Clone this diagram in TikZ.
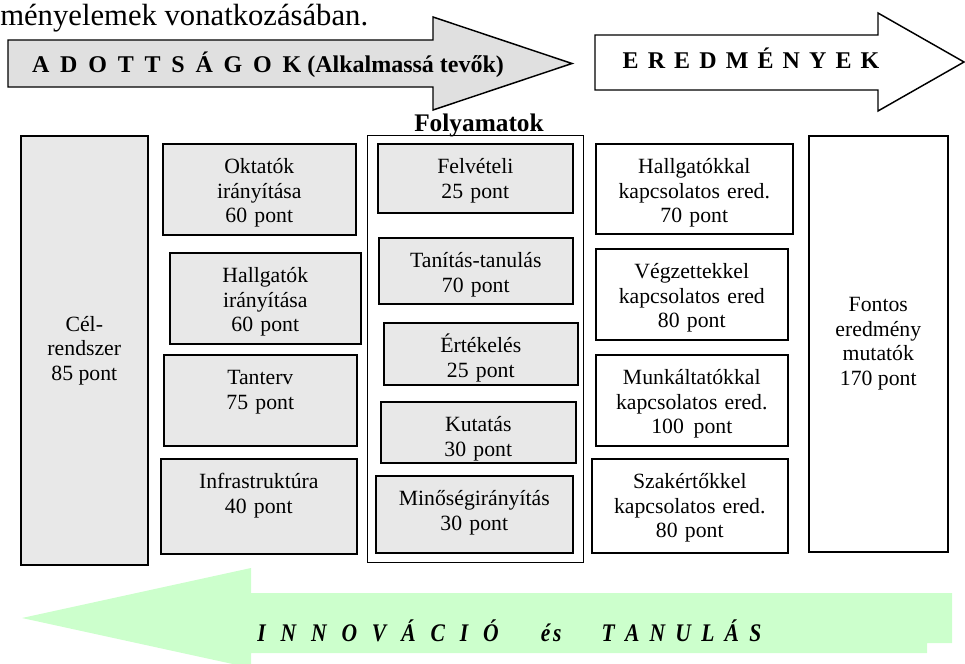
\documentclass[tikz,border=0pt]{standalone}
\usepackage{fontspec}
\setmainfont{Liberation Serif}
\newfontfamily\condserif[FakeStretch=0.85]{Liberation Serif}
\usepackage{xcolor}
\usepackage{tikz}
\usetikzlibrary{positioning}
\definecolor{boxgray}{HTML}{E8E8E8}
\definecolor{arrowgray}{HTML}{E0E0E0}
\definecolor{mint}{HTML}{CCFFCC}

\begin{document}
\begin{tikzpicture}[
    x=0.75pt, y=-0.75pt,
    tbox/.style={draw, line width=1.2pt, anchor=north west, inner sep=0pt, align=center, text height=22.5pt, font=\fontsize{16.3}{18.4}\selectfont},
    gbox/.style={tbox, fill=boxgray},
    cbox/.style={draw, line width=1.2pt, anchor=north west, inner sep=0pt, align=center, font=\fontsize{16.3}{18.4}\selectfont},
    banner/.style={inner sep=0pt, anchor=base, font=\bfseries\fontsize{18}{20}\selectfont},
    arrowshape/.style={draw=black, line width=1.1pt, line join=miter}
]
\useasboundingbox (0,0) rectangle (965,664);

\node[anchor=base west, inner sep=0pt, font=\fontsize{23}{26}\selectfont] (intro) at (0,25) {ményelemek vonatkozásában.};

\draw[arrowshape, fill=arrowgray] (8,40) -- (433,40) -- (433,17) -- (572,63.5) -- (433,110) -- (433,87) -- (8,87) -- cycle;
\node[banner] (adott) at (268,72) {{\spaceskip=.45em A D O T T S Á G O K} (Alkalmassá tevők)};
\draw[arrowshape, fill=white] (595,35) -- (878,35) -- (878,13) -- (964,62) -- (878,111) -- (878,90) -- (595,90) -- cycle;
\node[banner] (ered) at (751,68) {\spaceskip=.38em E R E D M É N Y E K};

\node[cbox, fill=boxgray, minimum width=95.25pt, minimum height=321.75pt] (cel) at (20,135) {Cél-\\rendszer\\85 pont};

\node[gbox, text width=144.75pt, text depth=45.75pt] (oktatok) at (162,143) {Oktatók\\irányítása\\60 pont};
\node[gbox, text width=143.25pt, text depth=45.75pt] (hallgatok) at (169,252) {Hallgatók\\irányítása\\60 pont};
\node[gbox, text width=144.75pt, text depth=45.75pt] (tanterv) at (163,354) {Tanterv\\75 pont};
\node[gbox, text width=147pt, text depth=48.75pt] (infra) at (160,458) {Infrastruktúra\\40 pont};

\node[draw, line width=0.8pt, anchor=north west, inner sep=0pt, minimum width=162pt, minimum height=320.25pt] (folyamat) at (367,135) {};
\node[banner, font=\bfseries\fontsize{19}{21}\selectfont] (folycim) at (479,131) {Folyamatok};
\node[gbox, text width=146.25pt, text depth=29.25pt] (felveteli) at (377,143) {Felvételi\\25 pont};
\node[gbox, text width=145.5pt, text depth=27pt] (tanitas) at (378,237) {Tanítás-tanulás\\70 pont};
\node[gbox, text width=145.5pt, text depth=24pt] (ertekeles) at (383,322) {Értékelés\\25 pont};
\node[gbox, text width=146.25pt, text depth=23.25pt] (kutatas) at (380,401) {Kutatás\\30 pont};
\node[gbox, text width=147.75pt, text depth=35.25pt] (minoseg) at (375,475) {Minőségirányítás\\30 pont};

\node[tbox, text width=147.75pt, text depth=45pt] (hallgatokkal) at (595,143) {Hallgatókkal\\kapcsolatos ered.\\70 pont};
\node[tbox, text width=144pt, text depth=45.75pt] (vegzettekkel) at (595,248) {Végzettekkel\\kapcsolatos ered\\80 pont};
\node[tbox, text width=144pt, text depth=45.75pt] (munkaltatokkal) at (595,354) {Munkáltatókkal\\kapcsolatos ered.\\100\hspace{.45em}pont};
\node[tbox, text width=147pt, text depth=48pt] (szakertokkel) at (591,458) {Szakértőkkel\\kapcsolatos ered.\\80 pont};

\node[cbox, minimum width=104.25pt, minimum height=312pt] (fontos) at (808,135) {Fontos\\eredmény\\mutatók\\170 pont};

\fill[mint] (22,618) -- (251,568) -- (251,593) -- (952,593) -- (952,643) -- (927,643) -- (927,653) -- (251,653) -- (251,668) -- cycle;
\node[anchor=base west, inner sep=0pt, font=\condserif\bfseries\itshape\fontsize{19}{22}\selectfont] (innovacio) at (257,641) {{\spaceskip=11.2pt I N N O V Á C I Ó}\hspace{31.5pt}é\hspace{2.2pt}s\hspace{30pt}{\spaceskip=7.7pt T A N U L Á S}};
\end{tikzpicture}
\end{document}
